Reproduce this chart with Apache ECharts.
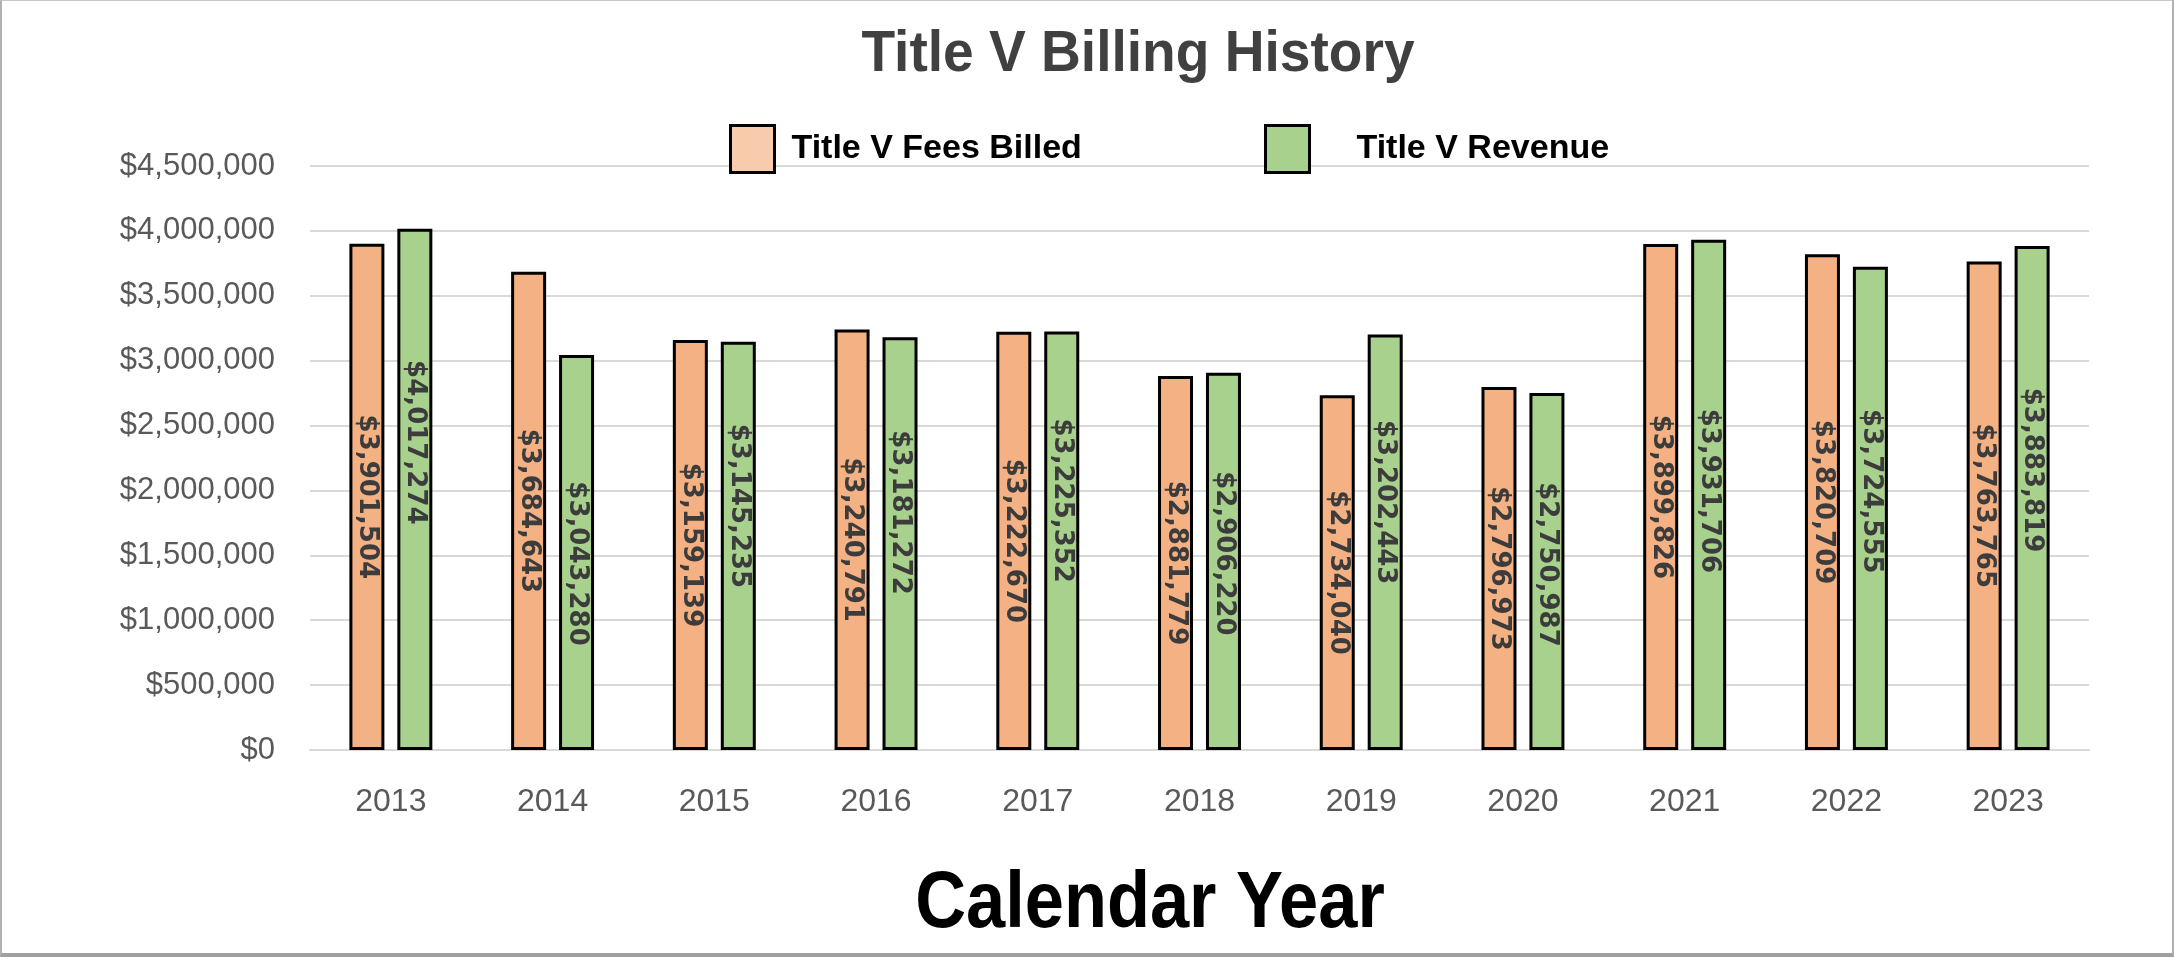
<!DOCTYPE html>
<html>
<head>
<meta charset="utf-8">
<script src="https://cdn.jsdelivr.net/npm/echarts@6/dist/echarts.min.js"></script>
<style>
  html, body { margin: 0; padding: 0; background: #fff; }
  #frame { position: absolute; left: 0; top: 0; width: 2174px; height: 957px; box-sizing: border-box;
           border-left: 2px solid #b0b0b0; border-top: 1px solid #c8c8c8; border-right: 2px solid #b0b0b0; border-bottom: 4px solid #a0a0a0; }
  #chart { position: absolute; left: 0; top: 0; width: 2174px; height: 957px; }
</style>
</head>
<body>
<div id="chart"></div>
<div id="frame"></div>
<script>
const years = ['2013','2014','2015','2016','2017','2018','2019','2020','2021','2022','2023'];
const feesBilled = [3901504, 3684643, 3159139, 3240791, 3222670, 2881779, 2734040, 2796973, 3899826, 3820709, 3763765];
const revenue = [4017274, 3043280, 3145235, 3181272, 3225352, 2906220, 3202443, 2750987, 3931706, 3724555, 3883819];
const seriesNames = ['Title V Fees Billed', 'Title V Revenue'];
const chartTitle = 'Title V Billing History';
const xAxisTitle = 'Calendar Year';
// vertical nudges (px) of the revenue value labels as placed in the original
const revenueLabelNudge = [-47, 11, -40, -31, -40, -8, -40, -7, -4, -17, -28];

const SANS = "'Liberation Sans', Arial, sans-serif";
const money = v => '$' + Math.round(v).toLocaleString('en-US');

const chart = echarts.init(document.getElementById('chart'), null, { renderer: 'canvas' });

const labelBase = {
  show: true,
  position: 'inside',
  rotate: -90,
  fontFamily: "'DejaVu Sans', sans-serif",
  fontWeight: 'bold',
  fontSize: 26,
  color: '#3c3c3c'
};

chart.setOption({
  animation: false,
  backgroundColor: '#ffffff',
  graphic: [
    { type: 'text', x: 1138, y: 55, scaleX: 0.95, style: { text: chartTitle, textAlign: 'center', textVerticalAlign: 'middle',
      font: "bold 58px " + SANS, fill: '#404040' } },
    { type: 'text', x: 1150, y: 905, scaleX: 0.88, style: { text: xAxisTitle, textAlign: 'center', textVerticalAlign: 'middle',
      font: "bold 80px " + SANS, fill: '#000000' } }
  ],
  legend: [
    { left: 724, top: 119, itemWidth: 44, itemHeight: 47, icon: 'rect', selectedMode: false,
      itemStyle: { borderColor: '#000', borderWidth: 3 },
      data: [{ name: seriesNames[0], itemStyle: { color: '#F8CBAD' } }],
      textStyle: { fontFamily: SANS, fontWeight: 'bold', fontSize: 34, color: '#000', padding: [0, 0, 0, 12] } },
    { left: 1259, top: 119, itemWidth: 44, itemHeight: 47, icon: 'rect', selectedMode: false,
      itemStyle: { borderColor: '#000', borderWidth: 3 },
      data: [{ name: seriesNames[1], itemStyle: { color: '#A9D18E' } }],
      textStyle: { fontFamily: SANS, fontWeight: 'bold', fontSize: 34, color: '#000', padding: [0, 0, 0, 42] } }
  ],
  grid: { left: 310, right: 85, top: 166, bottom: 207, containLabel: false },
  xAxis: {
    type: 'category',
    data: years,
    axisLine: { show: true, lineStyle: { color: '#d9d9d9', width: 2 } },
    axisTick: { show: false },
    axisLabel: { fontFamily: SANS, fontSize: 32, color: '#595959', margin: 36 }
  },
  yAxis: {
    type: 'value',
    min: 0, max: 4500000, interval: 500000,
    axisLine: { show: false },
    axisTick: { show: false },
    splitLine: { lineStyle: { color: '#d9d9d9', width: 2 } },
    axisLabel: { fontFamily: SANS, fontSize: 31, color: '#595959', margin: 35, formatter: v => money(v) }
  },
  series: [
    {
      name: seriesNames[0], type: 'bar', data: feesBilled,
      barWidth: 35, barGap: '37%',
      itemStyle: { color: '#F4B183', borderColor: '#000', borderWidth: 3 },
      label: Object.assign({}, labelBase, { formatter: p => money(p.value) })
    },
    {
      name: seriesNames[1], type: 'bar',
      data: revenue.map((v, i) => ({ value: v, label: { offset: [revenueLabelNudge[i], 0] } })),
      barWidth: 35,
      itemStyle: { color: '#A9D18E', borderColor: '#000', borderWidth: 3 },
      label: Object.assign({}, labelBase, { formatter: p => money(p.value) })
    }
  ]
});
</script>
</body>
</html>
